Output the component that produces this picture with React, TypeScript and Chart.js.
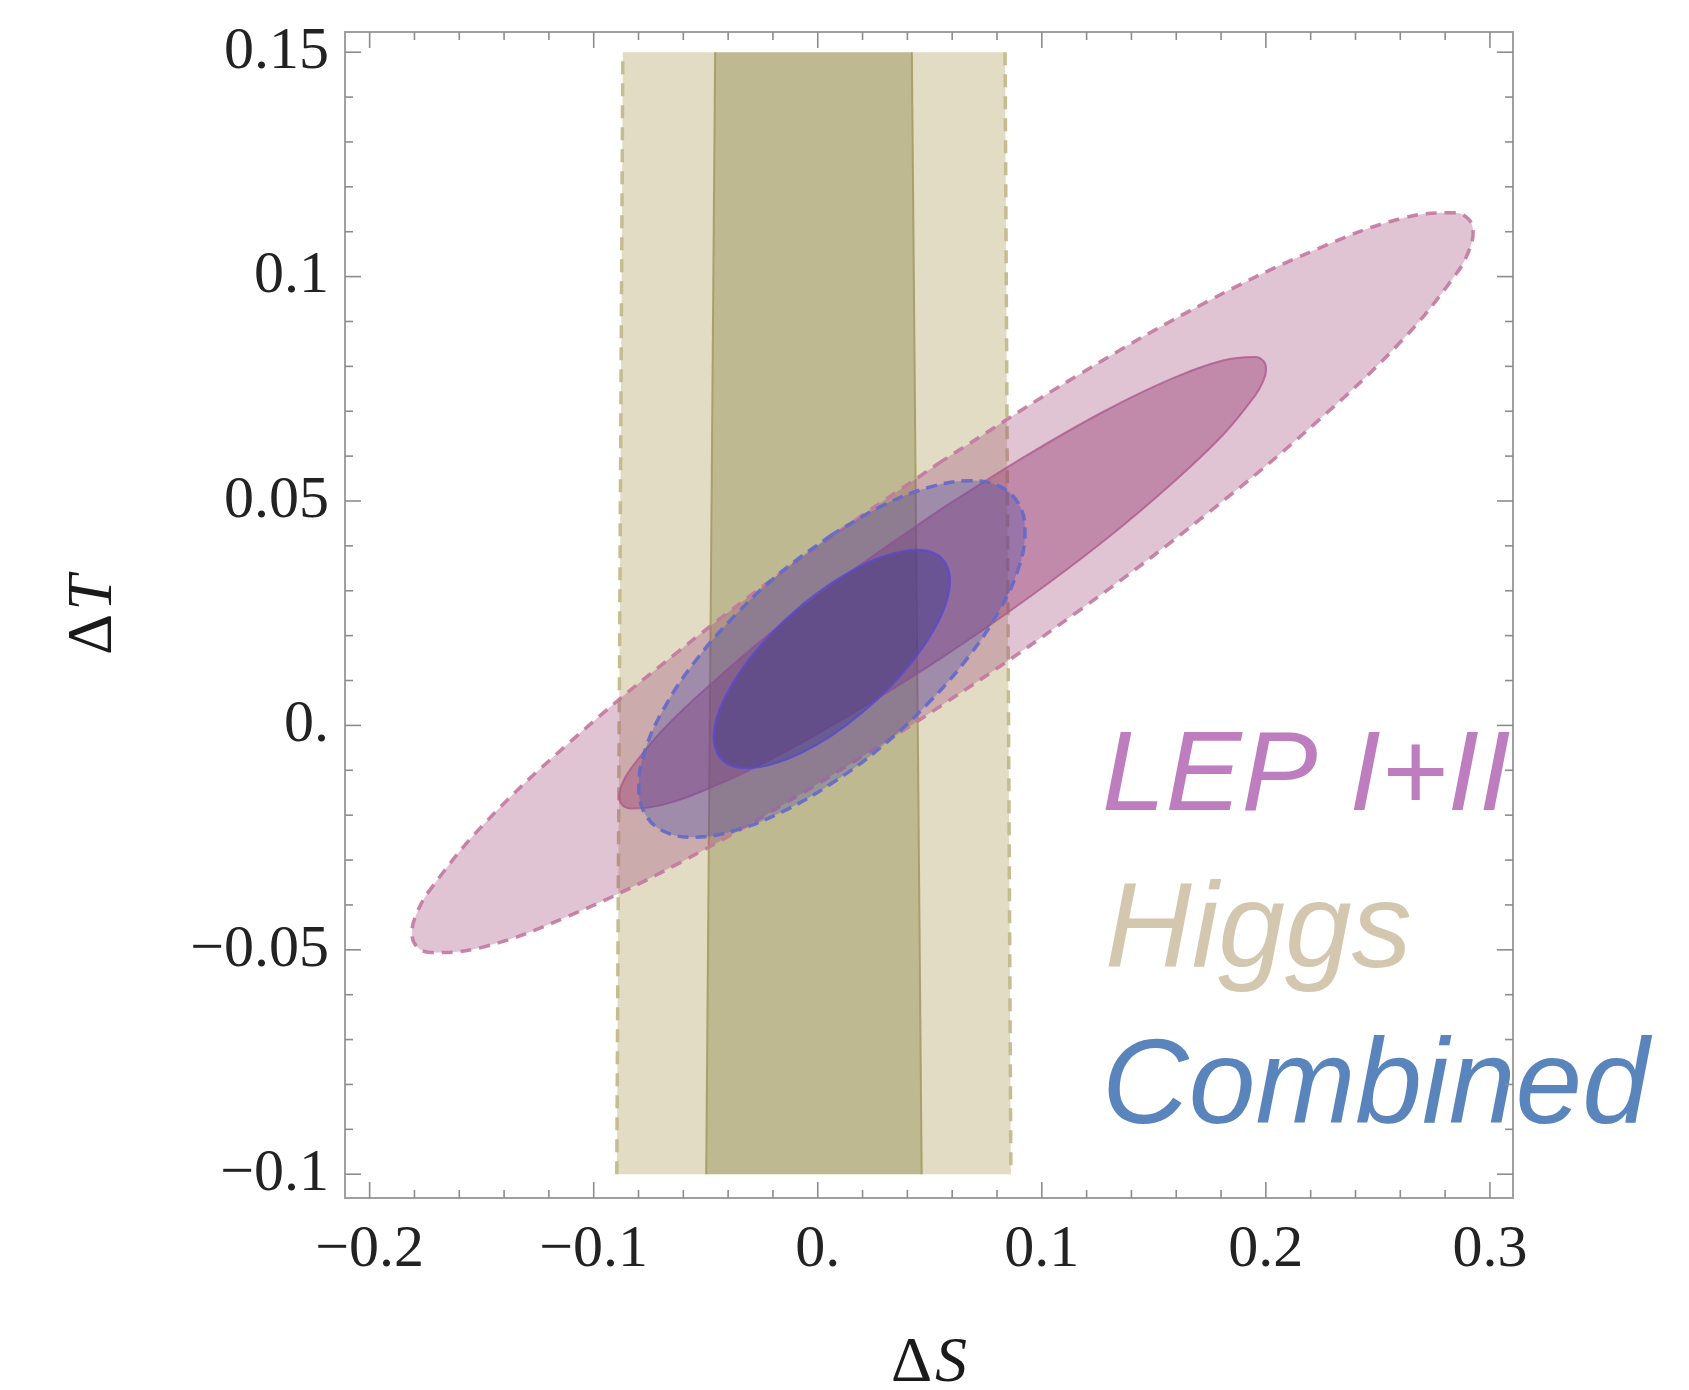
import React, { useEffect, useRef } from "react";
import { Chart, registerables } from "chart.js";

Chart.register(...registerables);

type Pt = [number, number];

// ---- axes ----
const X_TICKS = [-0.2, -0.1, 0, 0.1, 0.2, 0.3];
const X_TICK_LABELS = ["\u22120.2", "\u22120.1", "0.", "0.1", "0.2", "0.3"];
const Y_TICKS = [-0.1, -0.05, 0, 0.05, 0.1, 0.15];
const Y_TICK_LABELS = ["\u22120.1", "\u22120.05", "0.", "0.05", "0.1", "0.15"];
const X_MINOR = [-0.18, -0.16, -0.14, -0.12, -0.08, -0.06, -0.04, -0.02, 0.02, 0.04, 0.06, 0.08, 0.12, 0.14, 0.16, 0.18, 0.22, 0.24, 0.26, 0.28];
const Y_MINOR = [-0.09, -0.08, -0.07, -0.06, -0.04, -0.03, -0.02, -0.01, 0.01, 0.02, 0.03, 0.04, 0.06, 0.07, 0.08, 0.09, 0.11, 0.12, 0.13, 0.14];
const X_RANGE = [-0.211, 0.3103];
const Y_RANGE = [-0.1053, 0.1545];
const X_TITLE = ["\u0394", "S"];
const Y_TITLE = ["\u0394", "T"];
const LEGEND_LABELS = ["LEP I+II", "Higgs", "Combined"];

// ---- Higgs bands (S, T) ----
const HIGGS_95: Pt[] = [[-0.0897, -0.1], [-0.087, 0.15], [0.0836, 0.15], [0.0862, -0.1], [-0.0897, -0.1]];
const HIGGS_68: Pt[] = [[-0.0498, -0.1], [-0.0458, 0.15], [0.042, 0.15], [0.0464, -0.1], [-0.0498, -0.1]];

// ---- LEP I+II contours (S, T) ----
const LEP_95: Pt[] = [
  [0.0557, 0.059], [-0.0056, 0.0379], [-0.0627, 0.0163], [-0.1117, -0.0042], [-0.1494, -0.0222],
  [-0.173, -0.0366], [-0.1791, -0.042], [-0.1811, -0.0463], [-0.1791, -0.0492], [-0.173, -0.0506],
  [-0.1494, -0.0494], [-0.1117, -0.0426], [-0.0627, -0.0309], [-0.0056, -0.0147], [0.0557, 0.0046],
  [0.117, 0.0257], [0.1741, 0.0473], [0.2231, 0.0678], [0.2608, 0.0858], [0.2844, 0.1002],
  [0.2905, 0.1056], [0.2925, 0.1099], [0.2905, 0.1128], [0.2844, 0.1142], [0.2608, 0.113],
  [0.2231, 0.1062], [0.1741, 0.0945], [0.117, 0.0783], [0.0557, 0.059],
];
const LEP_68: Pt[] = [
  [0.0557, 0.0484], [0.0183, 0.0355], [-0.0165, 0.0224], [-0.0464, 0.0098], [-0.0694, -0.0011],
  [-0.0838, -0.0099], [-0.0875, -0.0132], [-0.0887, -0.0158], [-0.0875, -0.0176], [-0.0838, -0.0185],
  [-0.0694, -0.0177], [-0.0464, -0.0136], [-0.0165, -0.0064], [0.0183, 0.0035], [0.0557, 0.0152],
  [0.0931, 0.0281], [0.1279, 0.0412], [0.1578, 0.0538], [0.1808, 0.0647], [0.1952, 0.0735],
  [0.1989, 0.0768], [0.2001, 0.0794], [0.1989, 0.0812], [0.1952, 0.0821], [0.1808, 0.0813],
  [0.1578, 0.0772], [0.1279, 0.07], [0.0931, 0.0601], [0.0557, 0.0484],
];

// ---- Combined contours (S, T) ----
const COMB_95: Pt[] = [
  [0.0063, 0.0425], [-0.016, 0.0343], [-0.0368, 0.0246], [-0.0547, 0.0143], [-0.0683, 0.0041],
  [-0.077, -0.0054], [-0.0799, -0.0136], [-0.077, -0.0198], [-0.0683, -0.0237], [-0.0547, -0.0249],
  [-0.0368, -0.0234], [-0.016, -0.0193], [0.0063, -0.0129], [0.0286, -0.0047], [0.0494, 0.005],
  [0.0673, 0.0153], [0.0809, 0.0255], [0.0896, 0.035], [0.0925, 0.0432], [0.0896, 0.0494],
  [0.0809, 0.0533], [0.0673, 0.0545], [0.0494, 0.053], [0.0286, 0.0489], [0.0063, 0.0425],
];
const COMB_68: Pt[] = [
  [0.0063, 0.0318], [-0.0073, 0.0267], [-0.0201, 0.0208], [-0.031, 0.0145], [-0.0393, 0.0082],
  [-0.0446, 0.0024], [-0.0464, -0.0026], [-0.0446, -0.0064], [-0.0393, -0.0088], [-0.031, -0.0095],
  [-0.0201, -0.0086], [-0.0073, -0.0061], [0.0063, -0.0022], [0.0199, 0.0029], [0.0327, 0.0088],
  [0.0436, 0.0151], [0.0519, 0.0214], [0.0572, 0.0272], [0.059, 0.0322], [0.0572, 0.036],
  [0.0519, 0.0384], [0.0436, 0.0391], [0.0327, 0.0382], [0.0199, 0.0357], [0.0063, 0.0318],
];

const toXY = (pts: Pt[]) => pts.map(([x, y]) => ({ x, y }));
const NONE = "rgba(0,0,0,0)";

function regionFill(pts: Pt[], bg: string, order: number, tension: number) {
  return {
    data: toXY(pts),
    showLine: true,
    fill: "shape",
    backgroundColor: bg,
    borderColor: NONE,
    borderWidth: 1,
    tension,
    pointRadius: 0,
    order,
  };
}

function edge(pts: Pt[], color: string, width: number, dash: number[], order: number) {
  return {
    data: toXY(pts),
    showLine: true,
    fill: false,
    borderColor: color,
    borderWidth: width,
    borderDash: dash,
    tension: 0,
    pointRadius: 0,
    order,
  };
}

function region(pts: Pt[], bg: string, border: string, width: number, dash: number[], order: number) {
  return {
    data: toXY(pts),
    showLine: true,
    fill: "shape",
    backgroundColor: bg,
    borderColor: border,
    borderWidth: width,
    borderDash: dash,
    tension: 0.4,
    pointRadius: 0,
    order,
  };
}

const decorPlugin = {
  id: "decor",
  afterDatasetsDraw(chart: any) {
    const { ctx, chartArea: a } = chart;
    const xs = chart.scales.x;
    const ys = chart.scales.y;

    // legend labels
    ctx.save();
    ctx.textAlign = "left";
    ctx.textBaseline = "alphabetic";
    ctx.save();
    ctx.beginPath();
    ctx.rect(0, 0, a.right, chart.height);
    ctx.clip();
    ctx.font = 'italic 114px "Liberation Sans", Arial, sans-serif';
    ctx.fillStyle = "#bd7dbe";
    ctx.fillText(LEGEND_LABELS[0], a.left + 757, a.top + 778);
    ctx.restore();
    ctx.font = 'italic 120px "Liberation Sans", Arial, sans-serif';
    ctx.fillStyle = "#d4c7af";
    ctx.fillText(LEGEND_LABELS[1], a.left + 760, a.top + 935);
    ctx.fillStyle = "#5a84bc";
    ctx.fillText(LEGEND_LABELS[2], a.left + 757, a.top + 1091);
    ctx.restore();

    // frame
    ctx.save();
    ctx.strokeStyle = "#a0a0a0";
    ctx.lineWidth = 2;
    ctx.strokeRect(a.left, a.top, a.right - a.left, a.bottom - a.top);
    ctx.strokeStyle = "#8c8c8c";
    ctx.lineWidth = 1.6;
    const seg = (x1: number, y1: number, x2: number, y2: number) => {
      ctx.beginPath();
      ctx.moveTo(x1, y1);
      ctx.lineTo(x2, y2);
      ctx.stroke();
    };
    const xt = (v: number, len: number) => {
      const p = xs.getPixelForValue(v);
      seg(p, a.bottom, p, a.bottom - len);
      seg(p, a.top, p, a.top + len);
    };
    const yt = (v: number, len: number) => {
      const p = ys.getPixelForValue(v);
      seg(a.left, p, a.left + len, p);
      seg(a.right, p, a.right - len, p);
    };
    X_TICKS.forEach((v) => xt(v, 16));
    X_MINOR.forEach((v) => xt(v, 8));
    Y_TICKS.forEach((v) => yt(v, 16));
    Y_MINOR.forEach((v) => yt(v, 8));
    ctx.restore();
  },
  afterDraw(chart: any) {
    const { ctx, chartArea: a } = chart;
    const up = '64px "Liberation Serif", "DejaVu Serif", serif';
    const it = 'italic 64px "Liberation Serif", "DejaVu Serif", serif';
    const drawTitle = (parts: string[], cx: number, baseY: number) => {
      ctx.font = up;
      const w1 = ctx.measureText(parts[0]).width;
      ctx.font = it;
      const w2 = ctx.measureText(parts[1]).width;
      const x0 = cx - (w1 + w2 + 3) / 2;
      ctx.font = up;
      ctx.fillText(parts[0], x0, baseY);
      ctx.font = it;
      ctx.fillText(parts[1], x0 + w1 + 3, baseY);
    };
    ctx.save();
    ctx.fillStyle = "#1a1a1a";
    ctx.textAlign = "left";
    ctx.textBaseline = "alphabetic";
    drawTitle(X_TITLE, (a.left + a.right) / 2, 1381);
    ctx.translate(111, (a.top + a.bottom) / 2);
    ctx.rotate(-Math.PI / 2);
    drawTitle(Y_TITLE, 0, 0);
    ctx.restore();
  },
};

export default function App() {
  const ref = useRef<HTMLCanvasElement | null>(null);

  useEffect(() => {
    if (!ref.current) return;
    document.body.style.margin = "0";
    const datasets: any[] = [
      regionFill(HIGGS_95, "rgba(172,155,89,0.35)", 12, 0),
      edge(HIGGS_95.slice(0, 2), "rgba(195,185,140,0.95)", 3.5, [13, 9], 11),
      edge(HIGGS_95.slice(2, 4), "rgba(195,185,140,0.95)", 3.5, [13, 9], 11),
      regionFill(HIGGS_68, "rgba(154,150,93,0.5)", 10, 0),
      edge(HIGGS_68.slice(0, 2), "rgba(165,155,100,0.9)", 2, [], 9),
      edge(HIGGS_68.slice(2, 4), "rgba(165,155,100,0.9)", 2, [], 9),
      region(LEP_95, "rgba(152,58,112,0.3)", "rgba(195,120,160,0.9)", 3.5, [11, 8], 6),
      region(LEP_68, "rgba(152,58,112,0.42)", "rgba(175,90,140,0.8)", 2, [], 5),
      region(COMB_95, "rgba(60,70,170,0.3)", "rgba(100,105,200,0.9)", 3.5, [11, 7], 4),
      region(COMB_68, "rgba(60,55,140,0.45)", "rgba(90,75,205,0.85)", 2.2, [], 3),
    ];

    const chart = new Chart(ref.current, {
      type: "scatter",
      data: { datasets },
      plugins: [decorPlugin],
      options: {
        animation: false,
        responsive: false,
        devicePixelRatio: 1,
        events: [],
        layout: { padding: { top: 32, right: 176, left: 0, bottom: 0 } },
        plugins: {
          legend: { display: false },
          tooltip: { enabled: false },
          title: { display: false },
        },
        scales: {
          x: {
            type: "linear",
            min: X_RANGE[0],
            max: X_RANGE[1],
            grid: { display: false, drawTicks: false },
            border: { display: false },
            afterBuildTicks: (s: any) => {
              s.ticks = X_TICKS.map((v) => ({ value: v }));
            },
            afterFit: (s: any) => {
              s.height = 192;
              s.paddingLeft = 0;
              s.paddingRight = 0;
            },
            ticks: {
              autoSkip: false,
              maxRotation: 0,
              padding: 16,
              color: "#222",
              font: { family: '"Liberation Serif", "DejaVu Serif", serif', size: 60 },
              callback: (_v: any, i: number) => X_TICK_LABELS[i],
            },
          },
          y: {
            type: "linear",
            min: Y_RANGE[0],
            max: Y_RANGE[1],
            grid: { display: false, drawTicks: false },
            border: { display: false },
            afterBuildTicks: (s: any) => {
              s.ticks = Y_TICKS.map((v) => ({ value: v }));
            },
            afterFit: (s: any) => {
              s.width = 345;
              s.paddingTop = 0;
              s.paddingBottom = 0;
            },
            ticks: {
              autoSkip: false,
              padding: 16,
              color: "#222",
              font: { family: '"Liberation Serif", "DejaVu Serif", serif', size: 60 },
              callback: (_v: any, i: number) => Y_TICK_LABELS[i],
            },
          },
        },
      } as any,
    });
    return () => chart.destroy();
  }, []);

  return (
    <div style={{ position: "absolute", left: 0, top: 0, width: 1689, height: 1390, background: "#fff" }}>
      <canvas ref={ref} width={1689} height={1390} style={{ display: "block", width: 1689, height: 1390 }} />
    </div>
  );
}
